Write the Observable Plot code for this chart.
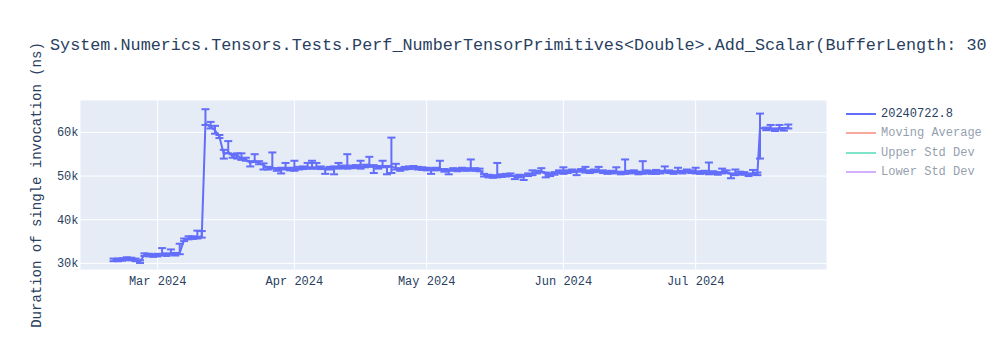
<!DOCTYPE html>
<html>
<head>
<meta charset="utf-8">
<script src="https://cdn.jsdelivr.net/npm/d3@7"></script>
<script src="https://cdn.jsdelivr.net/npm/@observablehq/plot@0.6"></script>
<style>
  html, body { margin: 0; padding: 0; background: white; overflow: hidden; }
  #chart { width: 1000px; height: 350px; position: relative; overflow: hidden; }
</style>
</head>
<body>
<div id="chart"></div>
<script>
const titleText = "System.Numerics.Tensors.Tests.Perf_NumberTensorPrimitives<Double>.Add_Scalar(BufferLength: 30";
const yTitle = "Duration of single invocation (ns)";
const seriesNames = ["20240722.8", "Moving Average", "Upper Std Dev", "Lower Std Dev"];
const seriesColors = ["#636efa", "#EF553B", "#00cc96", "#ab63fa"];
const seriesVisible = [true, false, false, false];

const monthTicks = ["2024-03-01", "2024-04-01", "2024-05-01", "2024-06-01", "2024-07-01"];
const yTicks = [30000, 40000, 50000, 60000];

const dates = [
  "2024-02-20","2024-02-21","2024-02-22","2024-02-23","2024-02-24","2024-02-25","2024-02-26","2024-02-27","2024-02-28","2024-02-29",
  "2024-03-01","2024-03-02","2024-03-03","2024-03-04","2024-03-05","2024-03-06","2024-03-07","2024-03-08","2024-03-09","2024-03-10",
  "2024-03-11","2024-03-11T20:00","2024-03-13","2024-03-14","2024-03-15","2024-03-16","2024-03-17","2024-03-18","2024-03-19","2024-03-20",
  "2024-03-21","2024-03-22","2024-03-23","2024-03-24","2024-03-25","2024-03-26","2024-03-27","2024-03-28","2024-03-29","2024-03-30","2024-03-31",
  "2024-04-01","2024-04-02","2024-04-03","2024-04-04","2024-04-05","2024-04-06","2024-04-07","2024-04-08","2024-04-09","2024-04-10",
  "2024-04-11","2024-04-12","2024-04-13","2024-04-14","2024-04-15","2024-04-16","2024-04-17","2024-04-18","2024-04-19","2024-04-20",
  "2024-04-21","2024-04-22","2024-04-23","2024-04-24","2024-04-25","2024-04-26","2024-04-27","2024-04-28","2024-04-29","2024-04-30",
  "2024-05-01","2024-05-02","2024-05-03","2024-05-04","2024-05-05","2024-05-06","2024-05-07","2024-05-08","2024-05-09","2024-05-10",
  "2024-05-11","2024-05-12","2024-05-13","2024-05-14","2024-05-15","2024-05-16","2024-05-17","2024-05-18","2024-05-19","2024-05-20",
  "2024-05-21","2024-05-22","2024-05-23","2024-05-24","2024-05-25","2024-05-26","2024-05-27","2024-05-28","2024-05-29","2024-05-30","2024-05-31",
  "2024-06-01","2024-06-02","2024-06-03","2024-06-04","2024-06-05","2024-06-06","2024-06-07","2024-06-08","2024-06-09","2024-06-10",
  "2024-06-11","2024-06-12","2024-06-13","2024-06-14","2024-06-15","2024-06-16","2024-06-17","2024-06-18","2024-06-19","2024-06-20",
  "2024-06-21","2024-06-22","2024-06-23","2024-06-24","2024-06-25","2024-06-26","2024-06-27","2024-06-28","2024-06-29","2024-06-30",
  "2024-07-01","2024-07-02","2024-07-03","2024-07-04","2024-07-05","2024-07-06","2024-07-07","2024-07-08","2024-07-09","2024-07-10",
  "2024-07-11","2024-07-12","2024-07-13","2024-07-14","2024-07-15","2024-07-15T14:00","2024-07-17","2024-07-18","2024-07-19","2024-07-20","2024-07-21","2024-07-22"
];

const values = [
  30800, 30800, 30900, 31100, 31000, 30800, 30400, 32000, 31900, 31800,
  31900, 32200, 32000, 32300, 32100, 32400, 35400, 35800, 35900, 36000,
  36200, 62000, 61200, 60500, 59000, 55000, 55500, 54500, 54800, 54000,
  53800, 53000, 53500, 53000, 52500, 51800, 52000, 51500, 51600, 51800, 51600,
  51500, 51800, 51900, 52000, 52000, 52000, 51900, 51500, 51800, 51900,
  52000, 52100, 52000, 52100, 52200, 52000, 52300, 52400, 52200, 52000,
  52300, 52000, 52200, 51800, 51500, 51800, 51900, 52000, 51800, 51700,
  51600, 51500, 51600, 51700, 51300, 51200, 51500, 51400, 51600, 51500,
  51600, 51500, 51400, 50200, 50000, 49900, 50000, 50100, 50200, 50300,
  49800, 50000, 49900, 50300, 50500, 50900, 51200, 50500, 50300, 50600, 51000,
  50800, 51000, 51200, 51000, 51300, 51100, 51000, 51200, 51300, 51000,
  50800, 50900, 51000, 50700, 50800, 50900, 51000, 50700, 50800, 51000,
  50800, 51100, 50900, 51200, 51000, 50800, 51100, 50900, 51200, 51000,
  50900, 50800, 50900, 50700, 50800, 50600, 50900, 51000, 50300, 50500,
  50700, 50600, 50300, 50600, 50500, 61000, 60800, 60900, 60600, 61000, 60700, 61200
];

const errHi = [
  300, 300, 300, 300, 300, 300, 300, 300, 300, 300,
  300, 1300, 300, 900, 300, 2100, 300, 400, 300, 1500,
  1200, 3300, 1200, 1000, 400, 1000, 2500, 500, 400, 1200,
  400, 400, 1500, 400, 400, 300, 3400, 300, 300, 1200, 300,
  2000, 300, 300, 1000, 1500, 1000, 300, 300, 300, 300,
  1000, 300, 3000, 300, 300, 1500, 300, 2000, 300, 300,
  1200, 300, 6600, 1000, 300, 300, 300, 300, 300, 300,
  300, 300, 300, 1800, 300, 300, 300, 300, 300, 300,
  2200, 300, 300, 300, 300, 300, 3000, 300, 300, 300,
  300, 300, 300, 300, 800, 300, 600, 300, 300, 300, 300,
  1200, 300, 300, 300, 300, 1000, 300, 300, 800, 300,
  300, 300, 1000, 300, 3000, 300, 300, 300, 2600, 300,
  300, 300, 300, 1000, 300, 300, 800, 300, 300, 300,
  1000, 300, 300, 2400, 300, 300, 800, 300, 300, 1000,
  300, 300, 300, 800, 300, 3300, 300, 800, 300, 700, 300, 600
];

const errLo = [
  300, 300, 300, 300, 300, 300, 300, 300, 300, 300,
  300, 300, 300, 300, 300, 300, 300, 300, 300, 300,
  300, 300, 300, 800, 300, 1000, 300, 300, 800, 300,
  300, 800, 300, 300, 1000, 300, 300, 300, 1000, 300, 300,
  300, 300, 300, 300, 300, 300, 300, 1000, 300, 1500,
  300, 300, 300, 300, 300, 300, 300, 300, 1500, 300,
  300, 1600, 1500, 300, 300, 300, 300, 300, 300, 300,
  300, 1000, 300, 300, 300, 800, 300, 300, 300, 300,
  300, 300, 300, 300, 300, 300, 300, 300, 300, 300,
  500, 300, 800, 300, 300, 300, 300, 800, 300, 300, 300,
  300, 300, 300, 800, 300, 300, 300, 300, 300, 300,
  300, 300, 300, 300, 300, 300, 300, 300, 300, 300,
  300, 600, 300, 300, 300, 300, 300, 300, 300, 300,
  300, 300, 300, 300, 300, 300, 300, 300, 800, 300,
  300, 300, 300, 300, 300, 7000, 300, 300, 300, 300, 300, 300
];

const data = dates.map((d, i) => ({
  date: new Date(d.length > 10 ? d + ":00Z" : d),
  value: values[i],
  hi: values[i] + errHi[i],
  lo: values[i] - errLo[i]
}));

const monthDates = monthTicks.map(d => new Date(d));

const capSymbol = {
  draw(context, size) {
    const w = Math.sqrt(size / Math.PI);
    context.moveTo(-w, 0);
    context.lineTo(w, 0);
  }
};

const font = "'Liberation Mono', 'DejaVu Sans Mono', monospace";
const textColor = "#2a3f5f";
const lineColor = seriesColors[0];

const plot = Plot.plot({
  width: 1000,
  height: 350,
  marginLeft: 80,
  marginRight: 174,
  marginTop: 100,
  marginBottom: 81,
  style: { background: "white", fontFamily: font, fontSize: "12px", color: textColor, overflow: "visible" },
  x: { type: "utc", domain: [new Date("2024-02-12T12:00:00Z"), new Date("2024-07-30T16:00:00Z")] },
  y: { domain: [28600, 67300] },
  marks: [
    Plot.frame({ fill: "#E5ECF6", stroke: "none" }),
    Plot.gridX(monthDates, { stroke: "white", strokeOpacity: 1, strokeWidth: 1 }),
    Plot.gridY(yTicks, { stroke: "white", strokeOpacity: 1, strokeWidth: 1 }),
    Plot.axisX(monthDates, { tickSize: 0, tickPadding: 7, tickFormat: d3.utcFormat("%b %Y"), label: null, fill: textColor }),
    Plot.axisY(yTicks, { tickSize: 0, tickPadding: 2, tickFormat: d => (d / 1000) + "k", label: null, fill: textColor }),
    Plot.ruleX(data, { x: "date", y1: "lo", y2: "hi", stroke: lineColor, strokeWidth: 2 }),
    Plot.line(data, { x: "date", y: "value", stroke: lineColor, strokeWidth: 2 }),
    Plot.dot(data, { x: "date", y: "hi", symbol: capSymbol, r: 4, fill: "none", stroke: lineColor, strokeWidth: 2 }),
    Plot.dot(data, { x: "date", y: "lo", symbol: capSymbol, r: 4, fill: "none", stroke: lineColor, strokeWidth: 2 })
  ]
});

const svg = d3.select(plot);

svg.append("text")
  .attr("x", 50).attr("y", 46)
  .attr("text-anchor", "start")
  .attr("dominant-baseline", "middle")
  .attr("font-family", font).attr("font-size", 16.8)
  .attr("fill", textColor)
  .text(titleText);

svg.append("text")
  .attr("transform", "translate(37,185) rotate(-90)")
  .attr("text-anchor", "middle")
  .attr("dominant-baseline", "middle")
  .attr("font-family", font).attr("font-size", 14)
  .attr("fill", textColor)
  .text(yTitle);

const legendRows = [114, 133, 153, 172];
seriesNames.forEach((name, i) => {
  const g = svg.append("g").attr("opacity", seriesVisible[i] ? 1 : 0.5);
  g.append("line")
    .attr("x1", 846).attr("x2", 876)
    .attr("y1", legendRows[i]).attr("y2", legendRows[i])
    .attr("stroke", seriesColors[i]).attr("stroke-width", 2);
  g.append("text")
    .attr("x", 881).attr("y", legendRows[i])
    .attr("text-anchor", "start")
    .attr("dominant-baseline", "middle")
    .attr("font-family", font).attr("font-size", 12)
    .attr("fill", textColor)
    .text(name);
});

document.getElementById("chart").appendChild(plot);
</script>
</body>
</html>
